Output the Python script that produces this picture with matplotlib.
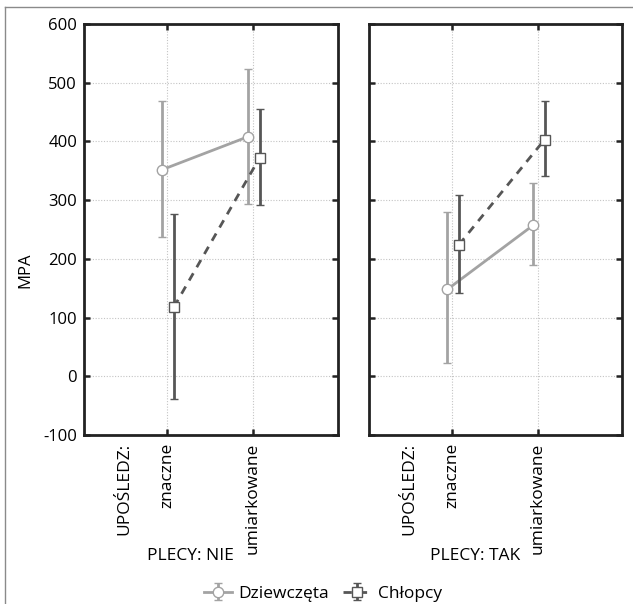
import numpy as np
import matplotlib.pyplot as plt
from matplotlib.lines import Line2D

plt.rcParams['font.family'] = ['Open Sans', 'DejaVu Sans']
plt.rcParams['font.size'] = 12.5
plt.rcParams['axes.unicode_minus'] = False

levels = ['znaczne', 'umiarkowane']
panels = ['PLECY: NIE', 'PLECY: TAK']
series = ['Dziewczęta', 'Chłopcy']

# means and interval ends for each panel, by level
girls_mean = [[352, 408], [148, 257]]
girls_lo = [[237, 293], [22, 190]]
girls_hi = [[468, 524], [280, 329]]
boys_mean = [[118, 372], [224, 403]]
boys_lo = [[-39, 291], [142, 341]]
boys_hi = [[276, 455], [309, 468]]

yticks = [-100, 0, 100, 200, 300, 400, 500, 600]

c_girls = '#a3a3a3'
c_boys = '#565656'

fig = plt.figure(figsize=(6.33, 6.04), dpi=100)

# thin frame round the figure (top and left edges)
fig.add_artist(Line2D([0.008, 1.0], [0.988, 0.988], color='#8a8a8a', lw=1.0))
fig.add_artist(Line2D([0.008, 0.008], [0.0, 0.988], color='#8a8a8a', lw=1.0))

lefts = [0.1327, 0.5829]
handles = []
for i, name in enumerate(panels):
    ax = fig.add_axes([lefts[i], 0.2798, 0.4005, 0.6805])
    x = np.arange(1, len(levels) + 1)

    gm = np.array(girls_mean[i])
    gerr = [gm - np.array(girls_lo[i]), np.array(girls_hi[i]) - gm]
    bm = np.array(boys_mean[i])
    berr = [bm - np.array(boys_lo[i]), np.array(boys_hi[i]) - bm]

    hg = ax.errorbar(x - 0.055, gm, yerr=gerr, color=c_girls, lw=2.0,
                     elinewidth=2.0, capsize=3, capthick=2.4,
                     marker='o', ms=7.5, mfc='white', mec=c_girls, mew=1.0,
                     zorder=3)
    hb = ax.errorbar(x + 0.08, bm, yerr=berr, color=c_boys, lw=2.0,
                     ls=(0, (3, 2.5)), elinewidth=2.0, capsize=3, capthick=2.4,
                     marker='s', ms=7.5, mfc='white', mec=c_boys, mew=1.0,
                     zorder=4)
    if i == 0:
        handles = [hg, hb]

    ax.set_xlim(0.03, 2.99)
    ax.set_ylim(-100, 600)
    ax.set_yticks(yticks)
    ax.set_xticks(x)
    ax.set_xticklabels([])
    ax.grid(True, color='#c4c4c4', ls=(0, (1, 1.5)), lw=0.8)
    ax.set_axisbelow(True)
    ax.tick_params(direction='in', length=4, width=1.8, top=True, right=True,
                   colors='#222222', labelcolor='black', pad=5, labelsize=12)
    for sp in ax.spines.values():
        sp.set_linewidth(2.0)
        sp.set_color('#222222')

    if i == 0:
        ax.set_ylabel('MPA', fontsize=12)
        ax.yaxis.set_label_coords(-0.2, 0.40)
    else:
        ax.set_yticklabels([])

    # rotated category labels under the axis
    trans = ax.get_xaxis_transform()
    ax.text(0.5, -0.02, 'UPOŚLEDZ:', rotation=90, ha='center', va='top',
            transform=trans)
    for xi, lab in zip(x, levels):
        ax.text(xi, -0.02, lab, rotation=90, ha='center', va='top',
                transform=trans)
    ax.text(0.42, -0.294, name, ha='center', va='center',
            transform=ax.transAxes)

fig.legend(handles, series, loc='lower center', bbox_to_anchor=(0.51, -0.022),
           ncol=2, frameon=False, handlelength=1.6, columnspacing=0.8,
           handletextpad=0.4, fontsize=12.5)

fig.savefig('out.png', dpi=100)
